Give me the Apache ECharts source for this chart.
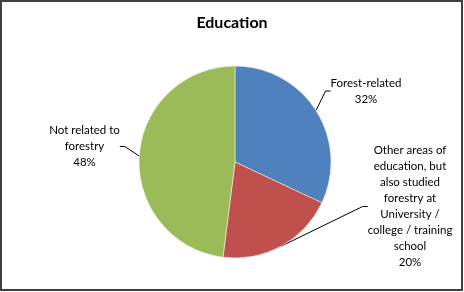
<!DOCTYPE html>
<html><head><meta charset="utf-8">
<script src="https://cdn.jsdelivr.net/npm/echarts@6/dist/echarts.min.js"></script>
<style>html,body{margin:0;padding:0;background:#fff}#c{width:464px;height:292px}</style>
</head><body><div id="c"></div>
<script>
const categories = ["Forest-related", "Other areas of\neducation, but\nalso studied\nforestry at\nUniversity /\ncollege / training\nschool", "Not related to\nforestry"];
const values = [32, 20, 48];
const colors = ["#4F81BD", "#C0504D", "#9BBB59"];
const labelPos = [[366, 91], [410, 206.5], [84.5, 146.5]];

const chart = echarts.init(document.getElementById('c'), null, {renderer: 'canvas'});
chart.setOption({
  animation: false,
  title: {text: 'Education', left: 'center', top: 10,
    textStyle: {fontFamily: 'Lato', fontWeight: 'bold', fontSize: 16, color: '#000'}},
  graphic: [{type: 'rect', shape: {x: 1, y: 1, width: 461, height: 289},
    style: {fill: 'none', stroke: '#404040', lineWidth: 2}, silent: true}],
  series: [{
    type: 'pie',
    center: [235, 162], radius: 96,
    startAngle: 90, clockwise: true,
    data: categories.map((n, i) => ({name: n, value: values[i], itemStyle: {color: colors[i]}})),
    itemStyle: {borderColor: '#fff', borderWidth: 0.5},
    label: {show: true, formatter: '{b}\n{d}%', fontFamily: 'Lato', fontSize: 11.5,
      lineHeight: 16, color: '#000', align: 'center'},
    labelLine: {show: true, length: 10, length2: 5, lineStyle: {color: '#000', width: 1}},
    labelLayout: function (p) {
      const pos = labelPos[p.dataIndex];
      return {x: pos[0], y: pos[1], align: 'center', verticalAlign: 'middle'};
    }
  }]
});
</script></body></html>
